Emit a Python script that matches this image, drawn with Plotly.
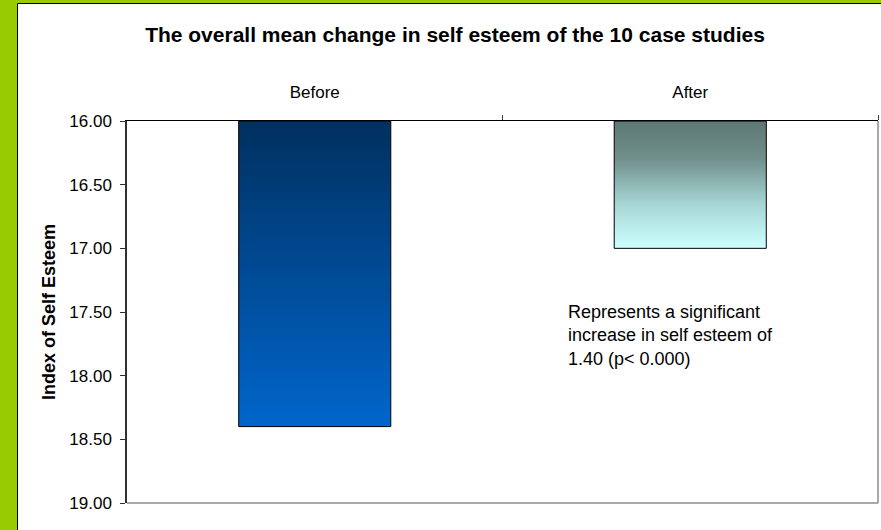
import plotly.graph_objects as go

categories = ["Before", "After"]
values = [18.40, 17.00]
axis_min = 16.0
axis_max = 19.0
y_ticks = [16.0, 16.5, 17.0, 17.5, 18.0, 18.5, 19.0]
title_text = "The overall mean change in self esteem of the 10 case studies"
y_title = "Index of Self Esteem"
note_text = "Represents a significant<br>increase in self esteem of<br>1.40 (p< 0.000)"

# colorscale listed bottom (value end) -> top (axis start)
gradients = [
    [[0, "#0066CC"], [1, "#00305F"]],
    [[0, "#CCFFFF"], [0.35, "#A6D6D4"], [0.7, "#71908C"], [1, "#5E7775"]],
]
bar_width = 0.405

W, H = 881, 530
ML, MR, MT, MB = 127, 3, 121, 27
PW, PH = W - ML - MR, H - MT - MB


def px(x):
    return (x - ML) / PW


def py(y):
    return (H - MB - y) / PH


fig = go.Figure()
for i, (cat, v) in enumerate(zip(categories, values)):
    x0, x1 = i - bar_width / 2, i + bar_width / 2
    fig.add_trace(go.Scatter(
        x=[x0, x1, x1, x0, x0],
        y=[axis_min, axis_min, v, v, axis_min],
        mode="lines",
        fill="toself",
        fillgradient=dict(type="vertical", colorscale=gradients[i]),
        line=dict(color="#000000", width=1),
        name=cat,
        showlegend=False,
        hoverinfo="skip",
    ))

font = "Arial, Liberation Sans, sans-serif"

shapes = [
    # white chart area with black top/left border
    dict(type="rect", xref="paper", yref="paper", layer="below",
         x0=px(17.5), x1=px(W + 10), y0=py(H + 10), y1=py(3.5),
         fillcolor="white", line=dict(color="#000000", width=1)),
    # plot area frame (gray right/bottom)
    dict(type="line", xref="paper", yref="paper", layer="below",
         x0=0, x1=1, y0=0, y1=0, line=dict(color="#8C8C8C", width=1.5)),
    dict(type="line", xref="paper", yref="paper", layer="below",
         x0=1, x1=1, y0=0, y1=1, line=dict(color="#8C8C8C", width=1.5)),
]

fig.update_layout(
    width=W, height=H,
    margin=dict(l=ML, r=MR, t=MT, b=MB, pad=0),
    paper_bgcolor="#99CC00",
    plot_bgcolor="rgba(0,0,0,0)",
    font=dict(family=font, size=17, color="#000000"),
    title=dict(text="<b>" + title_text + "</b>", xref="container", yref="container",
               x=455 / W, y=1 - 35 / H, xanchor="center", yanchor="middle",
               font=dict(size=21, family=font, color="#000000")),
    shapes=shapes,
    showlegend=False,
    xaxis=dict(
        range=[-0.5, 1.5], side="top", tickmode="array",
        tickvals=list(range(len(categories))), ticktext=categories,
        ticks="", showgrid=False, zeroline=False,
        showline=True, linecolor="#000000", linewidth=1.2,
        ticklabelstandoff=15,
        minor=dict(tickmode="array", tickvals=[0.5, 1.5], ticks="outside",
                   ticklen=5, tickcolor="#404040", tickwidth=1, showgrid=False),
        tickfont=dict(size=17, family=font),
    ),
    yaxis=dict(
        range=[axis_max, axis_min], tickmode="array", tickvals=y_ticks,
        tickformat=".2f", ticks="outside", ticklen=5, tickcolor="#303030",
        showgrid=False, zeroline=False,
        showline=True, linecolor="#303030", linewidth=1.5,
        tickfont=dict(size=17, family=font),
        ticklabelstandoff=5,
        title=dict(text="<b>" + y_title + "</b>", standoff=9,
                   font=dict(size=18, family=font)),
    ),
    annotations=[
        dict(text=note_text, x=0.668, y=17.405, xref="x", yref="y",
             xanchor="left", yanchor="top", align="left", showarrow=False,
             font=dict(size=18, family=font, color="#000000")),
    ],
)

fig.write_html("out.html", config={"displayModeBar": False},
               post_script="document.body.style.margin='0';")
